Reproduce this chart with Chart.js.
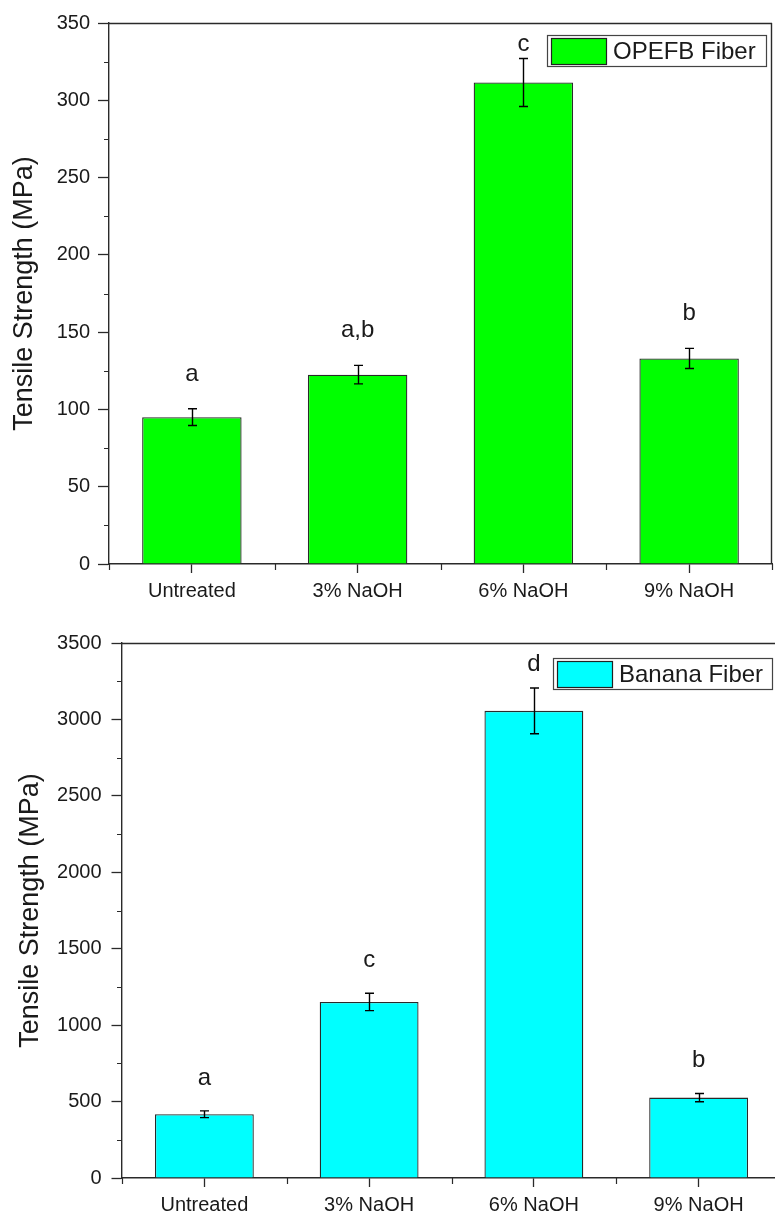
<!DOCTYPE html>
<html><head><meta charset="utf-8">
<script src="https://cdn.jsdelivr.net/npm/chart.js@4.4.0/dist/chart.umd.min.js"></script>
<style>
html,body{margin:0;padding:0;background:#fff;overflow:hidden;width:775px;height:1216px;position:relative;}
#w1{position:absolute;left:0;top:0;width:775px;height:605px;}
#w2{position:absolute;left:0;top:605px;width:790px;height:611px;}
</style></head><body>
<div id="w1"><canvas id="c1"></canvas></div>
<div id="w2"><canvas id="c2"></canvas></div>
<script>
// ---- data ----
const categories = ['Untreated', '3% NaOH', '6% NaOH', '9% NaOH'];
const opefbValues = [95, 122.5, 311.5, 133];
const opefbErrors = [5.4, 6, 15.5, 6.5];
const opefbLetters = ['a', 'a,b', 'c', 'b'];
const opefbTicks = [0, 50, 100, 150, 200, 250, 300, 350];
const bananaValues = [417, 1152, 3056, 526];
const bananaErrors = [22, 57, 150, 27];
const bananaLetters = ['a', 'c', 'd', 'b'];
const bananaTicks = [0, 500, 1000, 1500, 2000, 2500, 3000, 3500];
const yTitle = 'Tensile Strength (MPa)';

const FONT = "'Liberation Sans', Arial, sans-serif";
const INK = '#1a1a1a';
const LINE = '#2a2a2a';

const decorPlugin = {
  id: 'decor',
  afterDatasetsDraw(chart, args, opts) {
    const ctx = chart.ctx;
    const ca = chart.chartArea;
    const ys = chart.scales.y;
    const meta = chart.getDatasetMeta(0);
    const ds = chart.data.datasets[0];
    ctx.save();
    ctx.strokeStyle = '#000';
    ctx.lineWidth = 1.4;
    meta.data.forEach((bar, i) => {
      const v = ds.data[i], e = opts.errors[i];
      const yt = ys.getPixelForValue(v + e), yb = ys.getPixelForValue(v - e);
      const x = Math.round(bar.x) + 0.5;
      ctx.beginPath();
      ctx.moveTo(x, yt); ctx.lineTo(x, yb);
      ctx.moveTo(x - 4.5, yt); ctx.lineTo(x + 4.5, yt);
      ctx.moveTo(x - 4.5, yb); ctx.lineTo(x + 4.5, yb);
      ctx.stroke();
      ctx.fillStyle = INK;
      ctx.font = '24px ' + FONT;
      ctx.textAlign = 'center';
      ctx.textBaseline = 'alphabetic';
      const by = Math.max(yt - opts.gap, ca.top + 28);
      ctx.fillText(opts.letters[i], bar.x, by);
    });
    ctx.restore();
  },
  afterDraw(chart, args, opts) {
    const ctx = chart.ctx;
    const ca = chart.chartArea;
    const xs = chart.scales.x, ys = chart.scales.y;
    ctx.save();
    ctx.strokeStyle = LINE;
    ctx.lineWidth = 1.4;
    ctx.beginPath();
    ctx.moveTo(ca.left, ca.top + 0.5); ctx.lineTo(ca.right, ca.top + 0.5);
    ctx.moveTo(ca.right - 0.5, ca.top); ctx.lineTo(ca.right - 0.5, ca.bottom);
    ctx.stroke();
    ctx.lineWidth = 1.2;
    const t = opts.ticks;
    ctx.beginPath();
    for (let i = 0; i < t.length - 1; i++) {
      const y = Math.round(ys.getPixelForValue((t[i] + t[i + 1]) / 2)) + 0.5;
      ctx.moveTo(ca.left - 5, y); ctx.lineTo(ca.left, y);
    }
    const n = categories.length;
    for (let i = 0; i <= n; i++) {
      let x;
      if (i === 0) x = ca.left;
      else if (i === n) x = ca.right;
      else x = (xs.getPixelForValue(i - 1) + xs.getPixelForValue(i)) / 2;
      x = Math.round(x) + 0.5;
      ctx.moveTo(x, ca.bottom); ctx.lineTo(x, ca.bottom + 6);
    }
    ctx.stroke();
    const ds = chart.data.datasets[0];
    const lw = 219, lh = 31;
    const lx = ca.right - opts.legendRight - lw, ly = ca.top + opts.legendTop;
    ctx.fillStyle = '#fff';
    ctx.fillRect(lx, ly, lw, lh);
    ctx.strokeStyle = '#444';
    ctx.lineWidth = 1.2;
    ctx.strokeRect(lx + 0.5, ly + 0.5, lw, lh);
    ctx.fillStyle = ds.backgroundColor;
    ctx.fillRect(lx + 4, ly + 3, 55, 26);
    ctx.strokeStyle = '#222';
    ctx.strokeRect(lx + 4.5, ly + 3.5, 55, 26);
    ctx.fillStyle = INK;
    ctx.font = '24px ' + FONT;
    ctx.textAlign = 'left';
    ctx.textBaseline = 'alphabetic';
    ctx.fillText(ds.label, lx + 66, ly + 23.5);
    ctx.restore();
  }
};

function makeChart(id, label, values, color, tickVals, errors, letters, cfg) {
  return new Chart(document.getElementById(id), {
    type: 'bar',
    data: {
      labels: categories,
      datasets: [{
        label: label,
        data: values,
        backgroundColor: color,
        borderColor: '#2a2a2a',
        borderWidth: 1.3,
        categoryPercentage: 1,
        barPercentage: 0.6
      }]
    },
    plugins: [decorPlugin],
    options: {
      responsive: true,
      maintainAspectRatio: false,
      animation: false,
      devicePixelRatio: 1,
      layout: { padding: { top: cfg.padTop, right: cfg.padRight, left: 0, bottom: 0 } },
      plugins: {
        legend: { display: false },
        tooltip: { enabled: false },
        decor: { errors: errors, letters: letters, ticks: tickVals, gap: cfg.gap,
                 legendRight: cfg.legendRight, legendTop: cfg.legendTop }
      },
      scales: {
        x: {
          offset: true,
          grid: { offset: false, drawOnChartArea: false, drawTicks: true, tickLength: 9, tickColor: LINE, tickWidth: 1.3 },
          border: { display: true, color: LINE, width: 1.4 },
          ticks: { color: INK, font: { family: FONT, size: 20 }, padding: cfg.xPad, maxRotation: 0, autoSkip: false },
          afterFit: s => { s.height = cfg.xHeight; }
        },
        y: {
          min: tickVals[0],
          max: tickVals[tickVals.length - 1],
          afterBuildTicks: s => { s.ticks = tickVals.map(v => ({ value: v })); },
          grid: { drawOnChartArea: false, drawTicks: true, tickLength: cfg.yTick, tickColor: LINE, tickWidth: 1.3 },
          border: { display: true, color: LINE, width: 1.4 },
          ticks: { color: INK, font: { family: FONT, size: 20 }, padding: cfg.yPad,
                   callback: v => String(v) },
          title: { display: true, text: yTitle, color: INK, font: { family: FONT, size: 27 },
                   padding: { top: cfg.titlePad, bottom: 0 } },
          afterFit: s => { s.width = cfg.yWidth; }
        }
      }
    }
  });
}

makeChart('c1', 'OPEFB Fiber', opefbValues, '#00ff00', opefbTicks, opefbErrors, opefbLetters,
  { padTop: 23, padRight: 3, xHeight: 41, yWidth: 109, yTick: 11, yPad: 8, xPad: 6,
    titlePad: 8, gap: 28, legendRight: 6, legendTop: 12 });
makeChart('c2', 'Banana Fiber', bananaValues, '#00ffff', bananaTicks, bananaErrors, bananaLetters,
  { padTop: 38, padRight: 9, xHeight: 38, yWidth: 122, yTick: 10.5, yPad: 10, xPad: 6,
    titlePad: 14, gap: 26, legendRight: 9, legendTop: 15 });
</script>
</body></html>
